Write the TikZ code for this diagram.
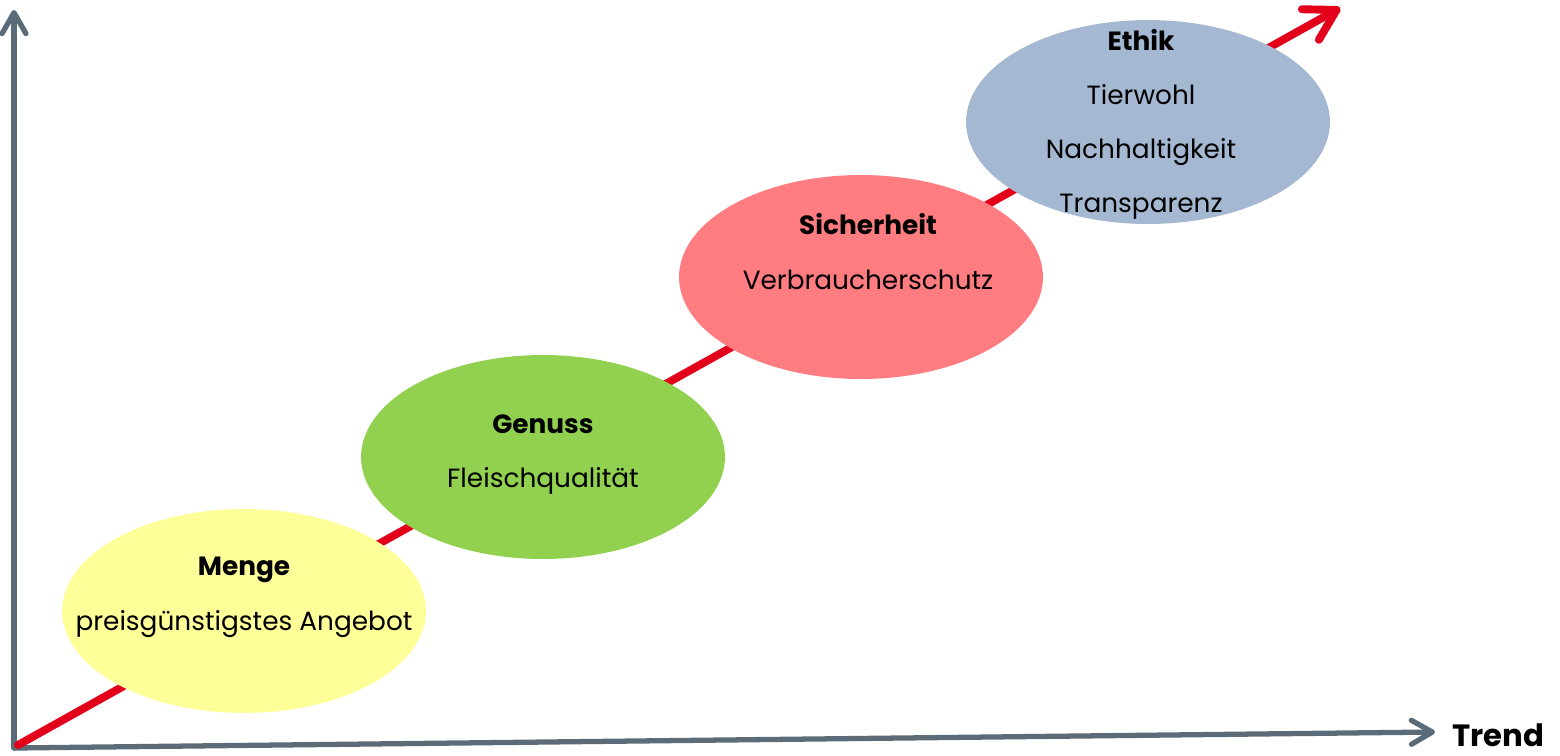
\documentclass[tikz,border=0pt]{standalone}
\usepackage{fontspec}
\setmainfont{Poppins}
\usetikzlibrary{arrows.meta,shapes.geometric}
\definecolor{axisgray}{HTML}{5B6B77}
\definecolor{trendred}{HTML}{E3001B}
\definecolor{mengeyellow}{HTML}{FFFF99}
\definecolor{genussgreen}{HTML}{92D050}
\definecolor{sicherred}{HTML}{FF7C80}
\definecolor{ethikblue}{HTML}{A5B8D1}
\begin{document}
\begin{tikzpicture}[x=0.02cm,y=-0.02cm,line join=round,line cap=round,
    axis/.style={draw=axisgray,line width=3pt,-{Straight Barb[round,length=0.42cm,width=0.48cm]}},
    trend/.style={draw=trendred,line width=4.5pt,-{Straight Barb[round,length=0.6cm,width=0.7cm]}},
    stage/.style={ellipse,minimum width=7.28cm,minimum height=4.08cm,inner sep=0pt},
    head/.style={font=\fontsize{15}{18}\selectfont\bfseries,text height=11pt,text depth=3pt},
    item/.style={font=\fontsize{15}{18}\selectfont,text height=11pt,text depth=3pt}]
    \useasboundingbox (0,0) rectangle (1560,755);
    % axes and trend line
    \coordinate (O) at (14,748);
    \coordinate (Y) at (14,10);
    \coordinate (X) at (1435,732);
    \coordinate (S) at (18,745);
    \coordinate (T) at (1340,8);
    \draw[axis] (O)--(Y);
    \draw[axis] (O)--(X);
    \draw[trend] (S)--(T);
    \node[font=\fontsize{17.5}{21}\selectfont\bfseries,anchor=west,inner sep=0pt,text depth=0pt] (trendlabel) at (1452,735) {Trend};
    % stages
    \path (244,611)node[stage,fill=mengeyellow] (menge){}
        (543,457)node[stage,fill=genussgreen] (genuss){}
        (861,277)node[stage,fill=sicherred] (sicherheit){}
        (1148,122)node[stage,fill=ethikblue] (ethik){};
    \path (244,568)node[head] (mengetitle){Menge}
        ++(0,55)node[item] (mengeitem){preisgünstigstes Angebot}
        (543,426)node[head] (genusstitle){Genuss}
        ++(0,54)node[item] (genussitem){Fleischqualität}
        (868,227)node[head] (sicherheittitle){Sicherheit}
        ++(0,55)node[item] (sicherheititem){Verbraucherschutz}
        (1141,43)node[head] (ethiktitle){Ethik}
        ++(0,54)node[item] (tierwohl){Tierwohl}
        ++(0,54)node[item] (nachhaltigkeit){Nachhaltigkeit}
        ++(0,54)node[item] (transparenz){Transparenz};
\end{tikzpicture}
\end{document}
